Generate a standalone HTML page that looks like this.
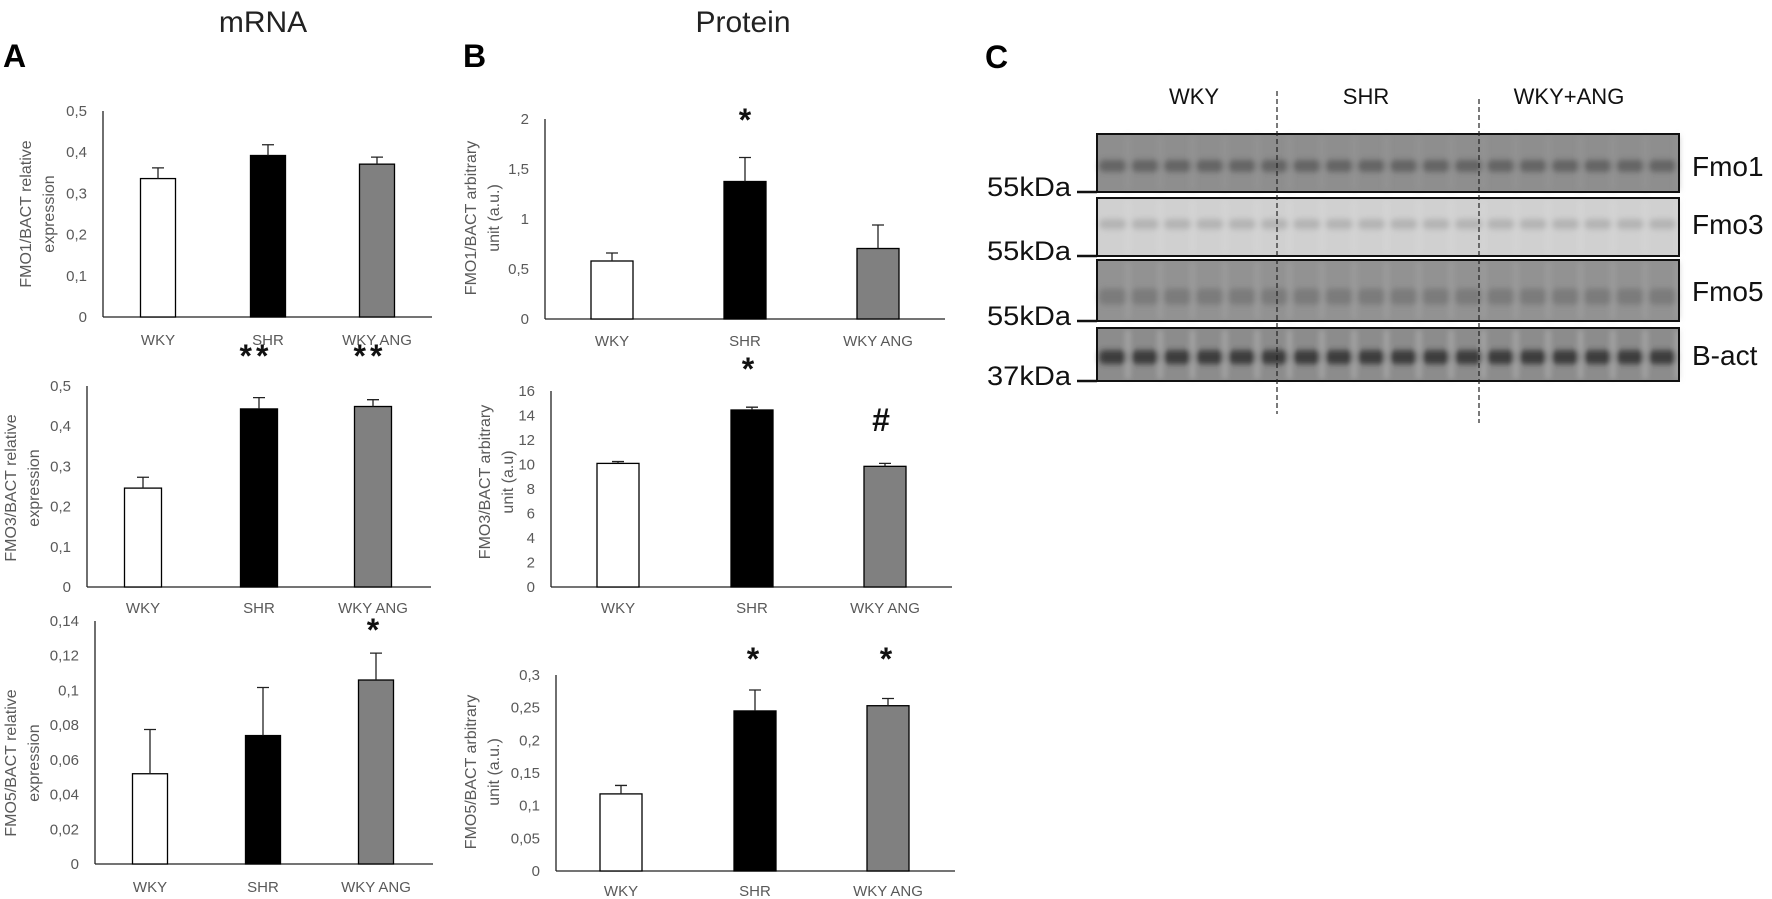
<!DOCTYPE html>
<html><head><meta charset="utf-8"><style>
html,body{margin:0;padding:0;background:#fff;}
svg{display:block;font-family:"Liberation Sans",sans-serif;}
</style></head><body>
<svg id="fig" width="1772" height="899" viewBox="0 0 1772 899" xmlns="http://www.w3.org/2000/svg">
<defs><filter id="blur" x="-20%" y="-50%" width="140%" height="200%"><feGaussianBlur stdDeviation="3"/></filter></defs>
<g>
<text x="263" y="32" font-size="30" text-anchor="middle" fill="#222">mRNA</text>
<text x="743" y="32" font-size="30" text-anchor="middle" fill="#222">Protein</text>
<text x="3" y="67" font-size="32" font-weight="bold">A</text>
<text x="463" y="67" font-size="32" font-weight="bold">B</text>
<text x="985" y="68" font-size="32" font-weight="bold">C</text>
</g>
<g id="charts"></g>
<g id="blot"></g>
</svg>
<script>
const categories = ["WKY", "SHR", "WKY ANG"];
const fills = ["#ffffff", "#000000", "#808080"];
const fmo1MrnaValues = [0.336, 0.392, 0.371];
const fmo1MrnaErrors = [0.026, 0.026, 0.017];
const fmo3MrnaValues = [0.246, 0.443, 0.449];
const fmo3MrnaErrors = [0.027, 0.028, 0.017];
const fmo5MrnaValues = [0.052, 0.074, 0.106];
const fmo5MrnaErrors = [0.0255, 0.0277, 0.0155];
const fmo1ProtValues = [0.58, 1.375, 0.705];
const fmo1ProtErrors = [0.08, 0.24, 0.235];
const fmo3ProtValues = [10.09, 14.45, 9.85];
const fmo3ProtErrors = [0.15, 0.23, 0.24];
const fmo5ProtValues = [0.118, 0.245, 0.253];
const fmo5ProtErrors = [0.013, 0.032, 0.011];
const ticksA1 = ["0", "0,1", "0,2", "0,3", "0,4", "0,5"];
const ticksA2 = ["0", "0,1", "0,2", "0,3", "0,4", "0,5"];
const ticksA3 = ["0", "0,02", "0,04", "0,06", "0,08", "0,1", "0,12", "0,14"];
const ticksB1 = ["0", "0,5", "1", "1,5", "2"];
const ticksB2 = ["0", "2", "4", "6", "8", "10", "12", "14", "16"];
const ticksB3 = ["0", "0,05", "0,1", "0,15", "0,2", "0,25", "0,3"];
const marksA2 = ["", "**", "**"];
const marksA3 = ["", "", "*"];
const marksB1 = ["", "*", ""];
const marksB2 = ["", "*", "#"];
const marksB3 = ["", "*", "*"];

const NS = "http://www.w3.org/2000/svg";
function mk(tag, attrs, parent, txt) {
  const e = document.createElementNS(NS, tag);
  for (const k in attrs) e.setAttribute(k, attrs[k]);
  if (txt !== undefined) e.textContent = txt;
  parent.appendChild(e);
  return e;
}
const charts = document.getElementById("charts");

function chart(cfg) {
  const g = mk("g", {}, charts);
  
  
  const maxV = cfg.max;
  const y = v => cfg.y0 - (v / maxV) * (cfg.y0 - cfg.yTop);
  const x = i => cfg.centers[i];
  const ax = mk("line", {x1: cfg.ax, x2: cfg.ax, y1: cfg.yTop, y2: cfg.y0, stroke: "#222", "stroke-width": 1.3}, g);
  
  
  const bl = mk("line", {x1: cfg.ax, x2: cfg.xEnd, y1: cfg.y0, y2: cfg.y0, stroke: "#222", "stroke-width": 1.3}, g);
  
  
  const n = cfg.ticks.length - 1;
  cfg.ticks.forEach((t, i) => {
    const tt = mk("text", {x: cfg.ax - 16, y: y(maxV * i / n) + 5, "font-size": 15, fill: "#595959", "text-anchor": "end"}, g, t);
    
    
  });
  categories.forEach((c, i) => {
    const v = cfg.values[i], e = cfg.errors[i];
    const b = mk("rect", {x: x(i) - cfg.bw / 2, y: y(v), width: cfg.bw, height: cfg.y0 - y(v), fill: fills[i], stroke: "#000", "stroke-width": 1.3}, g);
    
    
    const eb = mk("path", {d: `M${x(i)},${y(v)}V${y(v + e)}M${x(i) - 6},${y(v + e)}H${x(i) + 6}`, stroke: "#222", "stroke-width": 1.3, fill: "none"}, g);
    
    
    const lb = mk("text", {x: x(i), y: cfg.labY, "font-size": 15, fill: "#595959", "text-anchor": "middle"}, g, c);
    
    
    if (cfg.marks && cfg.marks[i]) {
      const m = cfg.marks[i];
      const s = mk("text", {x: x(i) + (cfg.markDx || 0), y: cfg.markY[i] + 10, "font-size": m === "#" ? 32 : 32, "font-weight": "bold", "text-anchor": "middle", fill: "#111", "letter-spacing": m === "**" ? 4 : 0}, g, m);
      
      
    }
  });
  const tg = mk("text", {transform: `translate(${cfg.titleX},${cfg.titleY}) rotate(-90)`, "font-size": 16, fill: "#595959", "text-anchor": "middle"}, g);
  
  
  mk("tspan", {x: 0, y: 0}, tg, cfg.title[0]);
  mk("tspan", {x: 0, y: 23}, tg, cfg.title[1]);
}

chart({name: "fmo1-mrna-chart", values: fmo1MrnaValues, errors: fmo1MrnaErrors, ticks: ticksA1, max: 0.5, ax: 103, xEnd: 432, yTop: 111, y0: 317, centers: [158, 268, 377], bw: 35, labY: 345, title: ["FMO1/BACT relative", "expression"], titleX: 31, titleY: 214});
chart({name: "fmo3-mrna-chart", values: fmo3MrnaValues, errors: fmo3MrnaErrors, ticks: ticksA2, max: 0.5, ax: 87, xEnd: 431, yTop: 386, y0: 587, centers: [143, 259, 373], bw: 37, labY: 613, title: ["FMO3/BACT relative", "expression"], titleX: 16, titleY: 488, marks: marksA2, markY: [0, 357, 357], markDx: -3});
chart({name: "fmo5-mrna-chart", values: fmo5MrnaValues, errors: fmo5MrnaErrors, ticks: ticksA3, max: 0.14, ax: 95, xEnd: 433, yTop: 621, y0: 864, centers: [150, 263, 376], bw: 35, labY: 892, title: ["FMO5/BACT relative", "expression"], titleX: 16, titleY: 763, marks: marksA3, markY: [0, 0, 631], markDx: -3});
chart({name: "fmo1-protein-chart", values: fmo1ProtValues, errors: fmo1ProtErrors, ticks: ticksB1, max: 2, ax: 545, xEnd: 945, yTop: 119, y0: 319, centers: [612, 745, 878], bw: 42, labY: 346, title: ["FMO1/BACT arbitrary", "unit (a.u.)"], titleX: 476, titleY: 218, marks: marksB1, markY: [0, 121, 0]});
chart({name: "fmo3-protein-chart", values: fmo3ProtValues, errors: fmo3ProtErrors, ticks: ticksB2, max: 16, ax: 551, xEnd: 952, yTop: 391, y0: 587, centers: [618, 752, 885], bw: 42, labY: 613, title: ["FMO3/BACT arbitrary", "unit (a.u)"], titleX: 490, titleY: 482, marks: marksB2, markY: [0, 370, 421], markDx: -4});
chart({name: "fmo5-protein-chart", values: fmo5ProtValues, errors: fmo5ProtErrors, ticks: ticksB3, max: 0.3, ax: 556, xEnd: 955, yTop: 675, y0: 871, centers: [621, 755, 888], bw: 42, labY: 896, title: ["FMO5/BACT arbitrary", "unit (a.u.)"], titleX: 476, titleY: 772, marks: marksB3, markY: [0, 660, 660], markDx: -2});

// Western blot
const blot = document.getElementById("blot");
const rows = [
  {name: "fmo1", label: "Fmo1", kda: "55kDa", y1: 134, y2: 192, bg: "#8e8e8e", band: "#4a4a4a", bandY: 0.55, bandH: 12, stripe: "#999", op: 0.6, ly: 166},
  {name: "fmo3", label: "Fmo3", kda: "55kDa", y1: 198, y2: 256, bg: "#d0d0d0", band: "#a0a0a0", bandY: 0.45, bandH: 10, stripe: "#dadada", op: 0.6, ly: 224},
  {name: "fmo5", label: "Fmo5", kda: "55kDa", y1: 260, y2: 321, bg: "#929292", band: "#6c6c6c", bandY: 0.6, bandH: 16, stripe: "#a8a8a8", op: 0.6, ly: 291},
  {name: "b-act", label: "B-act", kda: "37kDa", y1: 328, y2: 381, bg: "#8c8c8c", band: "#2e2e2e", bandY: 0.55, bandH: 14, stripe: "#c0c0c0", op: 0.85, ly: 355}
];
const lanes = 18, bx1 = 1097, bx2 = 1679;
rows.forEach(r => {
  const g = mk("g", {}, blot);
  
  
  mk("rect", {x: bx1, y: r.y1, width: bx2 - bx1, height: r.y2 - r.y1, fill: r.bg}, g);
  const lw = (bx2 - bx1) / lanes;
  const bands = mk("g", {filter: "url(#blur)"}, g);
  for (let i = 0; i < lanes; i++) {
    const lx = bx1 + i * lw;
    const by = r.y1 + (r.y2 - r.y1) * r.bandY - r.bandH / 2;
    mk("rect", {x: lx + 2, y: by, width: lw - 4, height: r.bandH, rx: 5, fill: r.band, opacity: r.op}, bands);
    mk("rect", {x: lx + lw - 3, y: r.y1 + 2, width: 3, height: r.y2 - r.y1 - 4, fill: r.stripe, opacity: 0.8}, bands);
  }
  mk("rect", {x: bx1, y: r.y1, width: bx2 - bx1, height: r.y2 - r.y1, fill: "none", stroke: "#111", "stroke-width": 2}, g);
  mk("line", {x1: 1077, x2: 1097, y1: r.y2, y2: r.y2, stroke: "#111", "stroke-width": 2.5}, g);
  const k = mk("text", {x: 1071, y: r.y2 + 4, "font-size": 27, "text-anchor": "end", fill: "#111", textLength: 84, lengthAdjust: "spacingAndGlyphs"}, g, r.kda);
  
  
  const l = mk("text", {x: 1692, y: r.ly + 10, "font-size": 28, fill: "#111"}, g, r.label);
  
  
});
[["WKY", 1194], ["SHR", 1366], ["WKY+ANG", 1569]].forEach(([t, x]) => {
  const e = mk("text", {x: x, y: 104, "font-size": 22, "text-anchor": "middle", fill: "#111"}, blot, t);
  
  
});
[[1277, 91, 414], [1479, 99, 423]].forEach(([x, a, b]) => {
  const e = mk("line", {x1: x, x2: x, y1: a, y2: b, stroke: "#222", "stroke-width": 1.2, "stroke-dasharray": "5,3"}, blot);
  
  
});
</script>
</body></html>
